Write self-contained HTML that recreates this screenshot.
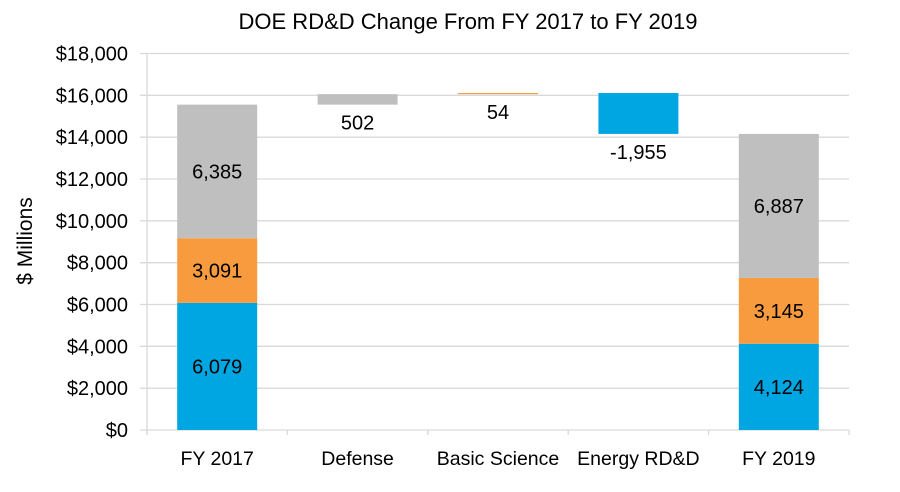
<!DOCTYPE html>
<html><head><meta charset="utf-8"><style>
body{margin:0;background:#fff;}
svg text{font-family:"Liberation Sans",sans-serif;fill:#000;}
</style></head><body>
<svg id="chart" width="900" height="487" xmlns="http://www.w3.org/2000/svg">
<text x="468" y="29" font-size="22" text-anchor="middle">DOE RD&amp;D Change From FY 2017 to FY 2019</text>
<text transform="translate(32,241) rotate(-90)" font-size="21" text-anchor="middle">$ Millions</text>
<g id="grid"></g><g id="bars"></g><g id="labels"></g>
</svg>
<script>
const categories=["FY 2017","Defense","Basic Science","Energy RD&D","FY 2019"];
const fy2017=[6079,3091,6385];
const fy2019=[4124,3145,6887];
const changes=[502,54,-1955];
const changeColors=["#bfbfbf","#f79b3e","#00a6e2"];
const stackColors=["#00a6e2","#f79b3e","#bfbfbf"];
const yTicks=[0,2000,4000,6000,8000,10000,12000,14000,16000,18000];
const NS="http://www.w3.org/2000/svg";
const x0=147,x1=849,y0=430,y1=53.5,yMax=18000;
const band=(x1-x0)/categories.length,bw=80;
const y=v=>y0-(v/yMax)*(y0-y1);
const cx=i=>x0+band*(i+0.5);
function mk(tag,attrs,parent){const e=document.createElementNS(NS,tag);for(const k in attrs)e.setAttribute(k,attrs[k]);parent.appendChild(e);return e;}
const grid=document.getElementById('grid'),bars=document.getElementById('bars'),labels=document.getElementById('labels');
yTicks.forEach(t=>{
 const l=mk('line',{x1:140,x2:x1,y1:y(t),y2:y(t),stroke:'#d9d9d9','stroke-width':1.3},grid);
 
 
 const tx=mk('text',{x:128,y:y(t)+7,'font-size':20,'text-anchor':'end'},grid);
 tx.textContent='$'+t.toLocaleString('en-US');
 
 
});
mk('line',{x1:x0,x2:x0,y1:y1,y2:y0+5,stroke:'#d9d9d9','stroke-width':1.3},grid);
for(let i=0;i<=categories.length;i++){mk('line',{x1:x0+band*i,x2:x0+band*i,y1:y0,y2:y0+5,stroke:'#d9d9d9','stroke-width':1.3},grid);}
categories.forEach((c,i)=>{
 const t=mk('text',{x:cx(i),y:465,'font-size':19.5,'text-anchor':'middle'},labels);
 t.textContent=c;
 
 
});
function rect(i,a,b,color){
 const r=mk('rect',{x:cx(i)-bw/2,y:y(Math.max(a,b)),width:bw,height:Math.abs(y(a)-y(b)),fill:color},bars);
 
 
}
function lab(xx,yy,v){
 const t=mk('text',{x:xx,y:yy,'font-size':20,'text-anchor':'middle'},labels);
 t.textContent=v.toLocaleString('en-US');
 
 
}
function stack(i,vals){let base=0;vals.forEach((v,k)=>{rect(i,base,base+v,stackColors[k]);lab(cx(i),(y(base)+y(base+v))/2+7,v);base+=v;});return base;}
let run=stack(0,fy2017);
changes.forEach((v,k)=>{const i=k+1;rect(i,run,run+v,changeColors[k]);const low=Math.min(run,run+v);lab(cx(i),y(low)+25,v);run+=v;});
stack(4,fy2019);
</script>
</body></html>
